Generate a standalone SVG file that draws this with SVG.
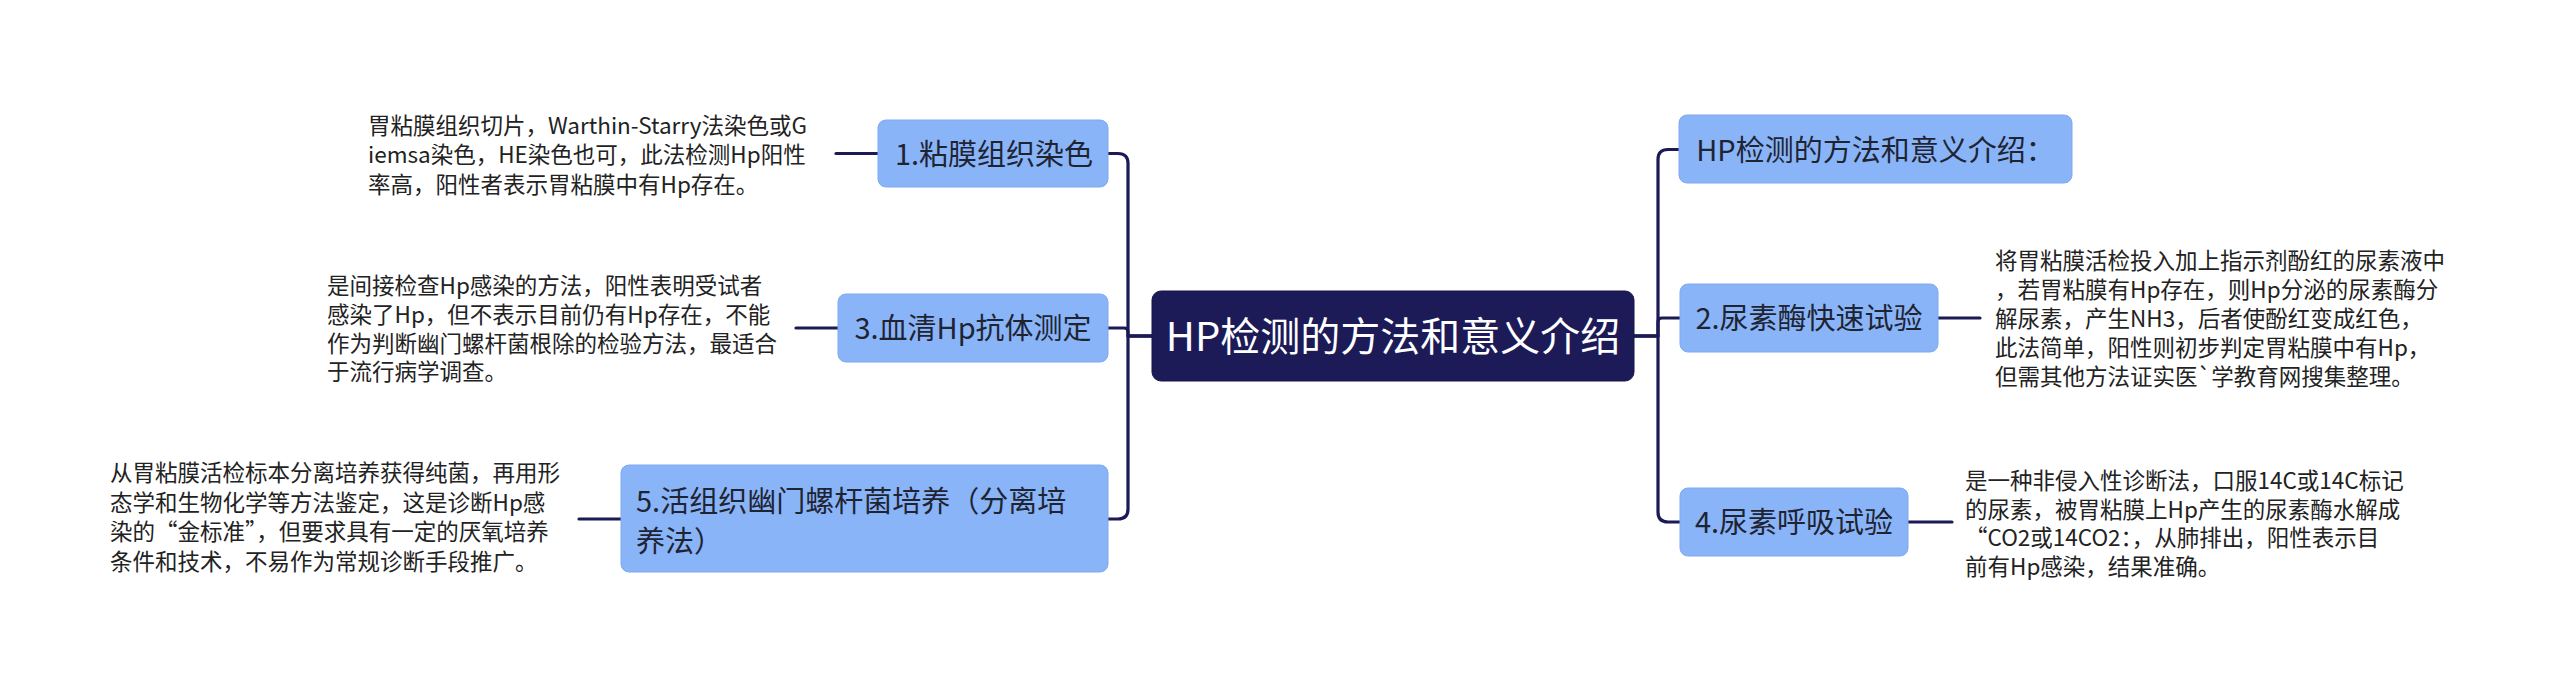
<svg xmlns="http://www.w3.org/2000/svg" width="2560" height="691" viewBox="0 0 2560 691">
<style>
text{font-family:"Noto Sans CJK SC","Noto Sans",sans-serif}
.box{fill:#8ab4f8;stroke:#7fa9f0;stroke-width:1}
.nt{font-size:29px;fill:#1f2433}
.ct{font-size:40px;fill:#ffffff}
.ds{font-size:22.5px;fill:#222222}
.cn{fill:none;stroke:#1b1a55;stroke-width:3.2;stroke-linecap:round;stroke-linejoin:round}
</style>
<rect width="2560" height="691" fill="#ffffff"/>
<g id="connectors">
<path class="cn" d="M1152,336 H1128 V163.5 Q1128,153.5 1118,153.5 H1108"/>
<path class="cn" d="M1152,336 H1128 V332 Q1128,328 1124,328 H1108"/>
<path class="cn" d="M1152,336 H1128 V509 Q1128,519 1118,519 H1108"/>
<path class="cn" d="M1634,336 H1658 V159.5 Q1658,149.5 1668,149.5 H1679"/>
<path class="cn" d="M1634,336 H1658 V322 Q1658,318 1662,318 H1680"/>
<path class="cn" d="M1634,336 H1658 V512 Q1658,522 1668,522 H1680"/>
<path class="cn" d="M878,153.5 H836"/>
<path class="cn" d="M838,328 H796"/>
<path class="cn" d="M621,519 H579"/>
<path class="cn" d="M1938,318 H1980"/>
<path class="cn" d="M1908,522 H1952"/>
</g>
<g id="central">
<rect x="1152" y="291" width="482" height="90" rx="9" fill="#1c1b57" stroke="#16154a" stroke-width="1"/>
<text class="ct" x="1393" y="351" text-anchor="middle">HP检测的方法和意义介绍</text>
</g>
<g id="node1">
<rect class="box" x="878" y="120" width="230" height="67" rx="8"/>
<text class="nt" x="994" y="164.5" text-anchor="middle">1.粘膜组织染色</text>
</g>
<g id="desc1">
<text class="ds"><tspan x="368" y="133.5">胃粘膜组织切片，Warthin-Starry法染色或G</tspan><tspan x="368" y="163">iemsa染色，HE染色也可，此法检测Hp阳性</tspan><tspan x="368" y="192.5">率高，阳性者表示胃粘膜中有Hp存在。</tspan></text>
</g>
<g id="node3">
<rect class="box" x="838" y="294" width="270" height="68" rx="8"/>
<text class="nt" x="973" y="339" text-anchor="middle">3.血清Hp抗体测定</text>
</g>
<g id="desc3">
<text class="ds"><tspan x="327" y="294">是间接检查Hp感染的方法，阳性表明受试者</tspan><tspan x="327" y="323">感染了Hp，但不表示目前仍有Hp存在，不能</tspan><tspan x="327" y="351.5">作为判断幽门螺杆菌根除的检验方法，最适合</tspan><tspan x="327" y="380">于流行病学调查。</tspan></text>
</g>
<g id="node5">
<rect class="box" x="621" y="465" width="487" height="107" rx="8"/>
<text class="nt"><tspan x="636" y="512">5.活组织幽门螺杆菌培养（分离培</tspan><tspan x="636" y="552">养法）</tspan></text>
</g>
<g id="desc5">
<text class="ds"><tspan x="110" y="481">从胃粘膜活检标本分离培养获得纯菌，再用形</tspan><tspan x="110" y="510.5">态学和生物化学等方法鉴定，这是诊断Hp感</tspan><tspan x="110" y="540">染的“金标准”，但要求具有一定的厌氧培养</tspan><tspan x="110" y="569.5">条件和技术，不易作为常规诊断手段推广。</tspan></text>
</g>
<g id="nodeIntro">
<rect class="box" x="1679" y="115" width="393" height="68" rx="8"/>
<text class="nt" x="1875.5" y="160.5" text-anchor="middle">HP检测的方法和意义介绍：</text>
</g>
<g id="node2">
<rect class="box" x="1680" y="284" width="258" height="68" rx="8"/>
<text class="nt" x="1809" y="329" text-anchor="middle">2.尿素酶快速试验</text>
</g>
<g id="desc2">
<text class="ds"><tspan x="1995" y="269">将胃粘膜活检投入加上指示剂酚红的尿素液中</tspan><tspan x="1995" y="298">，若胃粘膜有Hp存在，则Hp分泌的尿素酶分</tspan><tspan x="1995" y="327">解尿素，产生NH3，后者使酚红变成红色，</tspan><tspan x="1995" y="356">此法简单，阳性则初步判定胃粘膜中有Hp，</tspan><tspan x="1995" y="385">但需其他方法证实医`学教育网搜集整理。</tspan></text>
</g>
<g id="node4">
<rect class="box" x="1680" y="488" width="228" height="68" rx="8"/>
<text class="nt" x="1794" y="533" text-anchor="middle">4.尿素呼吸试验</text>
</g>
<g id="desc4">
<text class="ds"><tspan x="1965" y="489">是一种非侵入性诊断法，口服14C或14C标记</tspan><tspan x="1965" y="517.5">的尿素，被胃粘膜上Hp产生的尿素酶水解成</tspan><tspan x="1965" y="546">“CO2或14CO2：，从肺排出，阳性表示目</tspan><tspan x="1965" y="574.5">前有Hp感染，结果准确。</tspan></text>
</g>
</svg>
